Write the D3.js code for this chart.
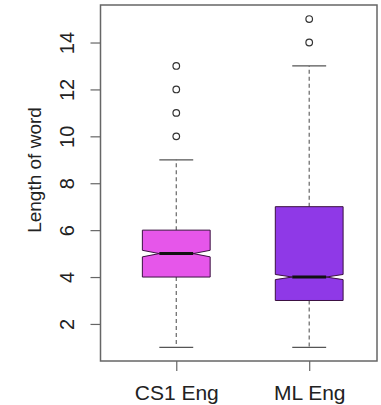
<!DOCTYPE html>
<html>
<head>
<meta charset="utf-8">
<script src="https://cdn.jsdelivr.net/npm/d3@7"></script>
<style>
  body { margin: 0; background: #fff; }
  text { font-family: "Liberation Sans", Arial, sans-serif; fill: #222; }
</style>
</head>
<body>
<div id="chart"></div>
<script>
// box stats
const categories = ['CS1 Eng', 'ML Eng'];
const lowWhisker = [1, 1];
const q1 = [4, 3];
const medians = [5, 4];
const q3 = [6, 7];
const highWhisker = [9, 13];
const notchHalf = [0.14, 0.11];
const outliers = [[10, 11, 12, 13], [14, 15]];
const fills = ['#e656ea', '#8f39e7'];
const yTicks = [2, 4, 6, 8, 10, 12, 14];

const width = 381, height = 405;
const frame = { left: 100.5, right: 377, top: 5, bottom: 361 };

const svg = d3.select('#chart').append('svg')
  .attr('width', width)
  .attr('height', height);

const y = d3.scaleLinear()
  .domain([0.42, 15.6])
  .range([frame.bottom, frame.top]);

const x = d3.scaleLinear()
  .domain([0.43, 2.51])
  .range([frame.left, frame.right]);

const boxW = 0.51;  // in x units
const halfBox = (x(boxW) - x(0)) / 2;

const data = categories.map((c, i) => ({
  name: c, i: i + 1, lo: lowWhisker[i], q1: q1[i], med: medians[i], q3: q3[i],
  hi: highWhisker[i], notch: notchHalf[i], out: outliers[i], fill: fills[i]
}));

const g = svg.append('g');

const boxes = g.selectAll('.box')
  .data(data)
  .enter().append('g')
  .attr('class', 'box');

// whiskers (dashed)
boxes.append('line')
  .attr('x1', d => x(d.i)).attr('x2', d => x(d.i))
  .attr('y1', d => y(d.q3)).attr('y2', d => y(d.hi))
  .attr('stroke', '#666').attr('stroke-width', 1.2).attr('stroke-dasharray', '4,3');
boxes.append('line')
  .attr('x1', d => x(d.i)).attr('x2', d => x(d.i))
  .attr('y1', d => y(d.q1)).attr('y2', d => y(d.lo))
  .attr('stroke', '#666').attr('stroke-width', 1.2).attr('stroke-dasharray', '4,3');

// staples
['hi', 'lo'].forEach(k => {
  boxes.append('line')
    .attr('x1', d => x(d.i) - halfBox / 2).attr('x2', d => x(d.i) + halfBox / 2)
    .attr('y1', d => y(d[k])).attr('y2', d => y(d[k]))
    .attr('stroke', '#555').attr('stroke-width', 1.2);
});

// notched box
boxes.append('path')
  .attr('d', d => {
    const cx = x(d.i), l = cx - halfBox, r = cx + halfBox;
    const il = cx - halfBox / 2, ir = cx + halfBox / 2;
    const pts = [
      [l, y(d.q1)], [l, y(d.med - d.notch)], [il, y(d.med)], [l, y(d.med + d.notch)],
      [l, y(d.q3)], [r, y(d.q3)], [r, y(d.med + d.notch)], [ir, y(d.med)],
      [r, y(d.med - d.notch)], [r, y(d.q1)]
    ];
    return d3.line()(pts) + 'Z';
  })
  .attr('fill', d => d.fill)
  .attr('stroke', '#3a1040')
  .attr('stroke-width', 1);

// median
boxes.append('line')
  .attr('x1', d => x(d.i) - halfBox / 2).attr('x2', d => x(d.i) + halfBox / 2)
  .attr('y1', d => y(d.med)).attr('y2', d => y(d.med))
  .attr('stroke', '#111').attr('stroke-width', 3);

// outliers
boxes.selectAll('circle')
  .data(d => d.out.map(v => ({ i: d.i, v })))
  .enter().append('circle')
  .attr('cx', d => x(d.i)).attr('cy', d => y(d.v))
  .attr('r', 3.3)
  .attr('fill', 'none').attr('stroke', '#333').attr('stroke-width', 1.2);

// frame
svg.append('rect')
  .attr('x', frame.left).attr('y', frame.top)
  .attr('width', frame.right - frame.left).attr('height', frame.bottom - frame.top)
  .attr('fill', 'none').attr('stroke', '#666').attr('stroke-width', 1.5);

// y axis
const yAxis = svg.append('g')
  .attr('transform', 'translate(' + frame.left + ',0)')
  .call(d3.axisLeft(y).tickValues(yTicks).tickSize(10));
yAxis.select('.domain').remove();
yAxis.selectAll('line').attr('stroke', '#666').attr('stroke-width', 1.2);
yAxis.selectAll('text')
  .attr('font-size', 20)
  .attr('fill', '#222')
  .attr('transform', 'rotate(-90)')
  .attr('x', 0).attr('dy', 0)
  .attr('y', -27)
  .style('text-anchor', 'middle');

// x axis
const xAxis = svg.append('g')
  .attr('transform', 'translate(0,' + frame.bottom + ')')
  .call(d3.axisBottom(x).tickValues([1, 2]).tickSize(10)
    .tickFormat(d => categories[d - 1]));
xAxis.select('.domain').remove();
xAxis.selectAll('line').attr('stroke', '#666').attr('stroke-width', 1.2);
xAxis.selectAll('text')
  .attr('font-size', 21).attr('fill', '#222')
  .attr('dy', 0).attr('y', 39);

// y title
svg.append('text')
  .attr('transform', 'translate(41,170) rotate(-90)')
  .attr('text-anchor', 'middle')
  .attr('font-size', 19)
  .text('Length of word');
</script>
</body>
</html>
